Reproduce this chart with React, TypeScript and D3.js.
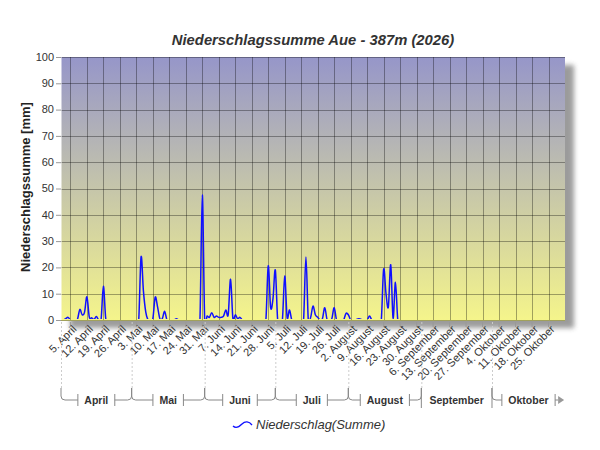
import * as d3 from "d3";

// daily precipitation sums [mm], from 1 April 2026
const april = [0, 0, 0.5, 1, 0, 0, 0, 0.3, 4, 2, 3, 8.8, 1.2, 0.8, 0.2, 1.3, 0, 0, 12.8, 0.5, 0, 0, 0, 0, 0, 0, 0, 0, 0, 0];
const mai = [0, 0, 0, 0, 24, 11, 3, 0, 0, 0.5, 8.7, 5, 0.5, 0.5, 3.3, 0, 0, 0, 0, 0.5, 0, 0, 0, 0, 0, 0, 0, 0, 0, 0, 47.5];
const juni = [0.3, 1.5, 1, 2.8, 1, 1.5, 1, 1, 1.5, 3.8, 2, 15.5, 0.5, 2, 0.5, 1, 0, 0, 0, 0, 0, 0, 0, 0, 0, 0, 0, 20.6, 4.8, 8];
const juli = [19, 0, 0, 0, 16.7, 1, 3.8, 0, 0, 0, 0, 0, 0, 24, 0, 1, 5.3, 2, 1, 0, 0.5, 4.7, 0, 0, 0.5, 4.7, 0, 0, 0, 0, 2.5];
const august = [2, 0, 0, 0, 0.4, 0.4, 0, 0, 0, 1.5, 0, 0, 0, 0, 0, 19.3, 10, 5, 21, 0.7, 14.3, 0, 0];

const MONTH_NAMES = ["April", "Mai", "Juni", "Juli", "August", "September", "Oktober"];
const START = new Date(2026, 3, 1);
const END = new Date(2026, 10, 1);

const TITLE = "Niederschlagssumme Aue - 387m (2026)";
const Y_TITLE = "Niederschlagssumme [mm]";
const LEGEND = "Niederschlag(Summe)";

const FONT = "'Liberation Sans', Arial, sans-serif";

const width = 600;
const height = 450;
const marginLeft = 61;
const marginRight = 35;
const marginTop = 57;
const plotBottom = 320;

const values = [...april, ...mai, ...juni, ...juli, ...august];
const series = values.map((v, i) => ({ date: d3.timeDay.offset(START, i), v }));

let ctx: CanvasRenderingContext2D | null = null;
function textWidth(s: string, font: string) {
  if (!ctx) ctx = document.createElement("canvas").getContext("2d");
  if (!ctx) return s.length * 6;
  ctx.font = font;
  return ctx.measureText(s).width;
}

export default function App() {
  const x = d3.scaleTime().domain([START, END]).range([marginLeft, width - marginRight]);
  const y = d3.scaleLinear().domain([0, 100]).range([plotBottom, marginTop]);
  const [x0, x1] = x.range();
  const pw = x1 - x0;
  const ph = plotBottom - marginTop;

  const line = d3
    .line<{ date: Date; v: number }>()
    .x(d => x(d.date))
    .y(d => y(d.v))
    .curve(d3.curveCardinal.tension(0));

  const weeks = d3.timeSunday.range(START, END);
  const months = d3.timeMonth.range(START, END);
  const monthFont = `bold 10.5px ${FONT}`;

  const bracketY = 400;
  const brackets = months.map((m, i) => {
    const a = x(m);
    const b = x(d3.timeMonth.offset(m, 1));
    const cx = (a + b) / 2;
    const w = textWidth(MONTH_NAMES[i], monthFont);
    const lx = cx - w / 2 - 6.5;
    const rx = cx + w / 2 + 6.5;
    let p = "";
    if (lx - a > 7) {
      p += `M${a},388V${bracketY - 4}Q${a},${bracketY} ${a + 4},${bracketY}H${lx}`;
      p += `M${lx},${bracketY - 6}V${bracketY + 6}`;
    } else {
      p += `M${a},388V${bracketY + 8}`;
    }
    if (i === months.length - 1) {
      p += `M${rx},${bracketY - 6}V${bracketY + 6}M${rx},${bracketY}H${rx + 3}`;
    } else if (b - rx > 7) {
      p += `M${rx},${bracketY - 6}V${bracketY + 6}M${rx},${bracketY}H${b - 4}Q${b},${bracketY} ${b},${bracketY - 4}V388`;
    } else {
      p += `M${b},388V${bracketY + 8}`;
    }
    return { key: i, a, cx, rx, p, name: MONTH_NAMES[i], last: i === months.length - 1 };
  });

  return (
    <svg
      width={width}
      height={height}
      style={{ position: "absolute", left: 0, top: 0, background: "#fff", fontFamily: FONT }}
    >
      <defs>
        <linearGradient id="bg" x1="0" y1="0" x2="0" y2="1">
          <stop offset="0%" stopColor="#9696c9" />
          <stop offset="100%" stopColor="#f5f58b" />
        </linearGradient>
        <filter id="shadow" x="-10%" y="-10%" width="120%" height="120%">
          <feGaussianBlur stdDeviation="2.5" />
        </filter>
        <clipPath id="plotclip">
          <rect x={x0} y={marginTop} width={pw} height={ph - 0.9} />
        </clipPath>
      </defs>

      <text x={313} y={45} textAnchor="middle" fontSize={14.8} fontWeight="bold" fontStyle="italic" fill="#333">
        {TITLE}
      </text>

      {/* plot background with drop shadow */}
      <rect x={x0 + 9} y={marginTop + 8} width={pw} height={ph} fill="#7a7a7a" opacity={0.75} filter="url(#shadow)" />
      <rect x={x0} y={marginTop} width={pw} height={ph + 1} fill="url(#bg)" />

      <g stroke="#000" strokeOpacity={0.34} strokeWidth={1}>
        {y.ticks(10).map(t => (
          <line key={t} x1={x0} x2={x1} y1={Math.round(y(t)) + 0.5} y2={Math.round(y(t)) + 0.5} />
        ))}
        {weeks.map(d => (
          <line key={+d} x1={Math.round(x(d)) + 0.5} x2={Math.round(x(d)) + 0.5} y1={marginTop} y2={plotBottom} />
        ))}
      </g>
      <line x1={x0 + 0.5} x2={x0 + 0.5} y1={marginTop} y2={plotBottom} stroke="#fff" strokeOpacity={0.5} />

      <path
        d={line(series) ?? undefined}
        fill="none"
        stroke="#1010ff"
        strokeWidth={1.5}
        clipPath="url(#plotclip)"
      />

      {/* y axis */}
      <g fontSize={11} fill="#333">
        {y.ticks(10).map(t => (
          <g key={t}>
            <line x1={56} x2={x0} y1={y(t) + 0.5} y2={y(t) + 0.5} stroke="#999" />
            <text x={54} y={y(t)} dy="0.35em" textAnchor="end">
              {t}
            </text>
          </g>
        ))}
      </g>
      <text
        transform={`translate(30,187) rotate(-90)`}
        textAnchor="middle"
        fontSize={13}
        fontWeight="bold"
        fill="#222"
      >
        {Y_TITLE}
      </text>

      {/* x axis: weekly ticks */}
      <g fontSize={11} fill="#333">
        {weeks.map(d => (
          <g key={+d}>
            <line x1={x(d)} x2={x(d)} y1={322} y2={327} stroke="#999" />
            <text transform={`translate(${x(d) + 1},${324}) rotate(-45)`} dy="0.75em" textAnchor="end">
              {`${d.getDate()}. ${MONTH_NAMES[d.getMonth() - 3]}`}
            </text>
          </g>
        ))}
      </g>

      {/* month brackets */}
      <g>
        {brackets.map(b => (
          <g key={b.key}>
            <line x1={b.a + 0.5} x2={b.a + 0.5} y1={322} y2={388} stroke="#ccc" strokeDasharray="2,2" />
            <path d={b.p} fill="none" stroke="#888" strokeWidth={1} />
            <text x={b.cx} y={bracketY} dy="0.36em" textAnchor="middle" fontSize={10.5} fontWeight="bold" fill="#333">
              {b.name}
            </text>
            {b.last && (
              <path d={`M${b.rx + 3},${bracketY - 4}L${b.rx + 9},${bracketY}L${b.rx + 3},${bracketY + 4}Z`} fill="#999" />
            )}
          </g>
        ))}
      </g>

      {/* legend */}
      <path d="M233,426 C236,429 239,427 242,424 C245,421 249,421 252,425" fill="none" stroke="#1010ff" strokeWidth={1.3} />
      <text x={256} y={429} fontSize={13} fontStyle="italic" fill="#333">
        {LEGEND}
      </text>
    </svg>
  );
}
